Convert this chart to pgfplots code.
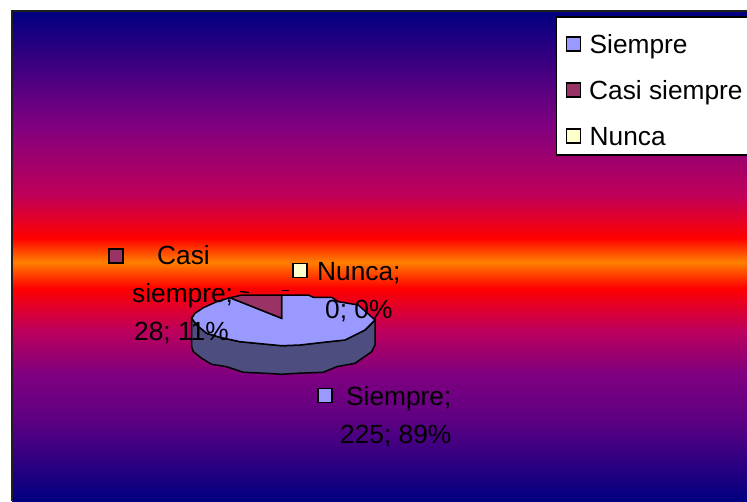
\documentclass[border=0pt]{standalone}
\usepackage{pgfplots}
\pgfplotsset{compat=1.18}
\usepackage{fontspec}
\setmainfont{Liberation Sans}
\definecolor{cSiempre}{RGB}{153,153,255}
\definecolor{cSide}{RGB}{77,77,128}
\definecolor{cCasi}{RGB}{153,51,102}
\definecolor{cNunca}{RGB}{255,255,204}
\pgfdeclareverticalshading{bgshade}{100bp}{%
rgb(0bp)=(0,0,0.5);
rgb(25bp)=(0,0,0.5);
rgb(33.1bp)=(0.36,0,0.51);
rgb(38bp)=(0.5,0,0.5);
rgb(42.6bp)=(0.75,0,0.35);
rgb(46.73bp)=(1,0,0);
rgb(49.39bp)=(1,0.5,0);
rgb(51.84bp)=(1,0,0);
rgb(56.2bp)=(0.75,0,0.35);
rgb(63.4bp)=(0.5,0,0.5);
rgb(75bp)=(0,0,0.5);
rgb(100bp)=(0,0,0.5)}
\newcommand{\lbl}[3]{\node[anchor=base west,inner sep=0pt,text=black,font=\fontsize{26.3}{30}\selectfont] at (axis cs:#1,#2) {#3};}
\begin{document}
\begin{tikzpicture}
\begin{axis}[
  scale only axis, width=747pt, height=501pt,
  xmin=0, xmax=747, ymin=0, ymax=501, y dir=reverse,
  axis lines=none, clip=true, clip mode=global,
]
% page ground, fixes the bounding box
\fill[white] (axis cs:0,0) rectangle (axis cs:747,501);
% background
\shade[shading=bgshade] (axis cs:12,11) rectangle (axis cs:747,501);
\draw[line width=2.6pt,color=black!88] (axis cs:12,501) -- (axis cs:12,11) -- (axis cs:747,11);

% pie side
\addplot[fill=cSide,draw=black,line width=1.5pt] coordinates {
(191.7,318.3)(196.7,325)(206.7,333.3)(220,337.3)(240,341.7)(256.7,343.3)(281.7,345.7)(300,345)(323.3,342.3)(345,340)(365,330)(375,320)
(375,345)(371.7,351.7)(355,363.3)(336.7,366.7)(323.3,372.3)(296.7,373.3)(281.7,374.3)(266.7,373.3)(243.3,372.3)(226.7,366.7)(211.7,364.3)(201.7,358.3)(193.3,351.7)(191.7,346.7)
} -- cycle;
% pie top: Siempre 225 (89%)
\addplot[fill=cSiempre,draw=black,line width=1.5pt] coordinates {
(281.7,318.3)(281.7,295)(308.3,295)(313.3,297.3)(331.7,297.3)(338.3,301.7)(358.3,305)(375,320)(365,330)(345,340)(323.3,342.3)(300,345)(281.7,345.7)(256.7,343.3)(240,341.7)(220,337.3)(206.7,333.3)(196.7,325)(191.7,318.3)(195,313.3)(203.3,307.7)(216.7,301.7)(230,297.7)
} -- cycle;
% Casi siempre 28 (11%)
\addplot[fill=cCasi,draw=black,line width=1.5pt] coordinates {
(281.7,318.3)(281.7,295)(242,295)(230,297.7)
} -- cycle;
% leader remnants
\addplot[draw=black,line width=1.4pt] coordinates {(240,291.5)(249,292.5)};
\addplot[draw=black,line width=1.4pt] coordinates {(282,290.7)(289,290.7)};

% data-label swatches
\addplot[only marks,mark=square*,mark size=7pt,mark options={fill=cCasi,draw=black,line width=1.4pt}] coordinates {(116,256)};
\addplot[only marks,mark=square*,mark size=7pt,mark options={fill=cNunca,draw=black,line width=1.4pt}] coordinates {(300,270.5)};
\addplot[only marks,mark=square*,mark size=7pt,mark options={fill=cSiempre,draw=black,line width=1.4pt}] coordinates {(325,395.5)};

% data labels
\lbl{157}{264}{Casi}
\lbl{132}{302.5}{siempre;}
\lbl{134}{340}{28; 11\%}
\lbl{317}{280.5}{Nunca;}
\lbl{325}{318}{0; 0\%}
\lbl{346}{405.5}{Siempre;}
\lbl{340}{443}{225; 89\%}

% legend
\filldraw[fill=white,draw=black,line width=1.6pt] (axis cs:556.5,17) rectangle (axis cs:760,155);
\addplot[only marks,mark=square*,mark size=7pt,mark options={fill=cSiempre,draw=black,line width=1.4pt}] coordinates {(573.5,44)};
\addplot[only marks,mark=square*,mark size=7pt,mark options={fill=cCasi,draw=black,line width=1.4pt}] coordinates {(573.5,90)};
\addplot[only marks,mark=square*,mark size=7pt,mark options={fill=cNunca,draw=black,line width=1.4pt}] coordinates {(573.5,136)};
\lbl{589.5}{53}{Siempre}
\lbl{589}{99}{Casi siempre}
\lbl{589.5}{145}{Nunca}
\end{axis}
\end{tikzpicture}
\end{document}
